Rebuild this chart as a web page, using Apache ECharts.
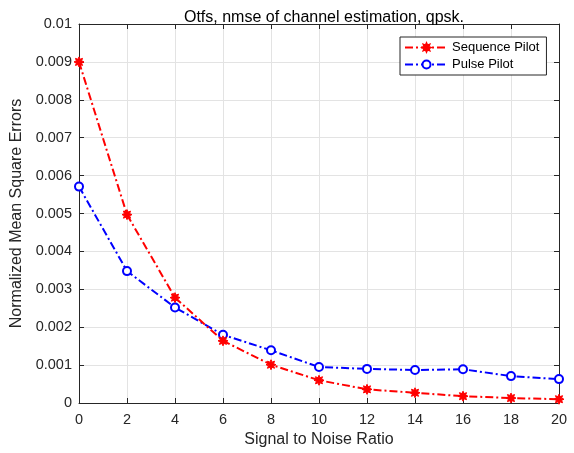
<!DOCTYPE html>
<html>
<head>
<meta charset="utf-8">
<script src="https://cdn.jsdelivr.net/npm/echarts@6/dist/echarts.min.js"></script>
<style>
  html, body { margin: 0; padding: 0; background: #fff; }
  #nmseChart { width: 574px; height: 453px; }
</style>
</head>
<body>
<div id="nmseChart"></div>
<script>
// SNR points (x axis)
const snrList = [0, 2, 4, 6, 8, 10, 12, 14, 16, 18, 20];
// NMSE
const sequencePilot = [0.00900, 0.00497, 0.00278, 0.00164, 0.00101, 0.00060, 0.00036, 0.00027, 0.00018, 0.00013, 0.00010];
const pulsePilot = [0.00571, 0.00348, 0.00252, 0.00180, 0.00139, 0.00095, 0.00090, 0.00087, 0.00089, 0.00071, 0.00063];
const seriesNames = ["Sequence Pilot", "Pulse Pilot"];

const FONT = "'Liberation Sans', Arial, Helvetica, sans-serif";
const AXIS_COLOR = "#262626";
// matlab '*' marker, drawn as a fat 8-point star
const starPath = "path://M5,0 L2.59,1.07 L3.54,3.54 L1.07,2.59 L0,5 L-1.07,2.59 L-3.54,3.54 L-2.59,1.07 L-5,0 L-2.59,-1.07 L-3.54,-3.54 L-1.07,-2.59 L0,-5 L1.07,-2.59 L3.54,-3.54 L2.59,-1.07 Z";
const dashDot = [8, 3, 2, 3];

function toPairs(ys) {
  return snrList.map((x, i) => [x, ys[i]]);
}

const chart = echarts.init(document.getElementById("nmseChart"));

// common axis pieces
const tickIn = { show: true, inside: true, length: 5, lineStyle: { color: AXIS_COLOR } };
const lineOn = { show: true, onZero: false, lineStyle: { color: AXIS_COLOR, width: 1 } };

const option = {
  animation: false,
  backgroundColor: "#fff",
  title: {
    text: "Otfs, nmse of channel estimation, qpsk.",
    left: 319,
    top: 5,
    textAlign: "center",
    textStyle: { fontFamily: FONT, fontSize: 16, fontWeight: "normal", color: "#000" }
  },
  grid: {
    left: 79,
    right: 15,
    top: 24,
    bottom: 50
  },
  legend: {
    orient: "vertical",
    left: 400,
    top: 37,
    padding: [4, 7, 4, 4],
    itemWidth: 43,
    itemHeight: 10,
    itemGap: 4,
    backgroundColor: "#fff",
    borderColor: AXIS_COLOR,
    borderWidth: 1,
    borderRadius: 0,
    textStyle: { fontFamily: FONT, fontSize: 13, color: "#000", padding: [0, 0, 0, -1] },
    data: seriesNames
  },
  xAxis: [
    {
      type: "value",
      min: 0,
      max: 20,
      interval: 2,
      name: "Signal to Noise Ratio",
      nameLocation: "middle",
      nameGap: 29,
      nameTextStyle: { fontFamily: FONT, fontSize: 16, color: AXIS_COLOR },
      axisLine: lineOn,
      axisTick: tickIn,
      axisLabel: { fontFamily: FONT, fontSize: 14.5, color: AXIS_COLOR, margin: 9 },
      splitLine: { show: true, lineStyle: { color: "#e3e3e3", width: 1 } }
    },
    {
      // top border of the box
      type: "value",
      position: "top",
      min: 0,
      max: 20,
      interval: 2,
      axisLine: lineOn,
      axisTick: tickIn,
      axisLabel: { show: false },
      splitLine: { show: false }
    }
  ],
  yAxis: [
    {
      type: "value",
      min: 0,
      max: 0.01,
      interval: 0.001,
      name: "Normalized Mean Square Errors",
      nameLocation: "middle",
      nameGap: 50,
      nameTextStyle: { fontFamily: FONT, fontSize: 16, color: AXIS_COLOR },
      axisLine: lineOn,
      axisTick: tickIn,
      axisLabel: {
        fontFamily: FONT,
        fontSize: 14.5,
        color: AXIS_COLOR,
        margin: 7,
        formatter: function(v) {
          return v === 0 ? "0" : String(parseFloat(v.toFixed(3)));
        }
      },
      splitLine: { show: true, lineStyle: { color: "#e3e3e3", width: 1 } }
    },
    {
      // right border of the box
      type: "value",
      position: "right",
      min: 0,
      max: 0.01,
      interval: 0.001,
      axisLine: lineOn,
      axisTick: tickIn,
      axisLabel: { show: false },
      splitLine: { show: false }
    }
  ],
  series: [
    {
      name: seriesNames[0],
      type: "line",
      data: toPairs(sequencePilot),
      symbol: starPath,
      symbolSize: 10,
      color: "#ff0000",
      itemStyle: { color: "#ff0000", borderColor: "#ff0000", borderWidth: 1 },
      lineStyle: { color: "#ff0000", width: 2, type: dashDot },
      z: 3
    },
    {
      name: seriesNames[1],
      type: "line",
      data: toPairs(pulsePilot),
      symbol: "circle",
      symbolSize: 8,
      showAllSymbol: true,
      color: "#0000ff",
      itemStyle: { color: "#fff", borderColor: "#0000ff", borderWidth: 2 },
      lineStyle: { color: "#0000ff", width: 2, type: dashDot },
      z: 2
    }
  ]
};

chart.setOption(option);
</script>
</body>
</html>
